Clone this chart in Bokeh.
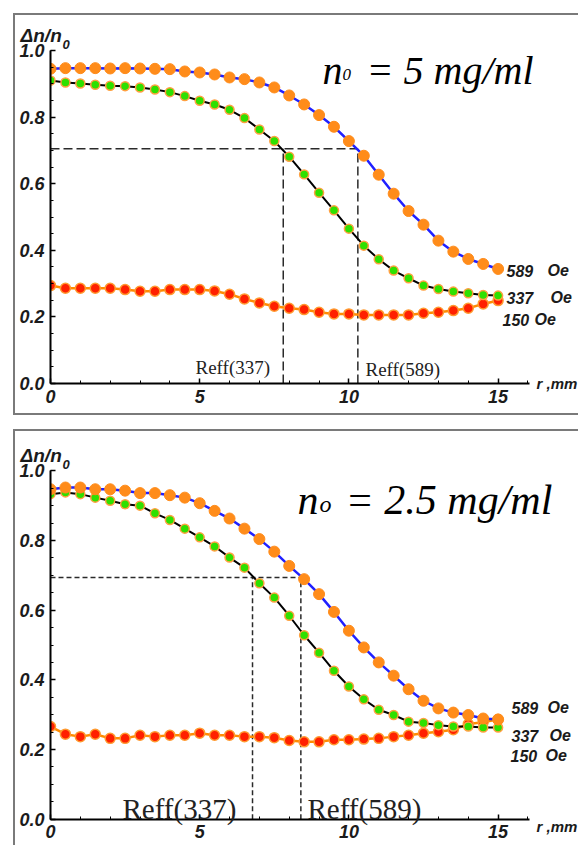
from bokeh.plotting import figure
from bokeh.models import Label, FixedTicker, PrintfTickFormatter, BoxAnnotation, Spacer
from bokeh.layouts import column, row
from bokeh.embed import file_html
from bokeh.resources import INLINE

# ---------------- data ----------------
r = [0.0, 0.5, 1.0, 1.5, 2.0, 2.5, 3.0, 3.5, 4.0, 4.5, 5.0, 5.5, 6.0, 6.5, 7.0, 7.5,
     8.0, 8.5, 9.0, 9.5, 10.0, 10.5, 11.0, 11.5, 12.0, 12.5, 13.0, 13.5, 14.0, 14.5, 15.0]

# panel 1: n0 = 5 mg/ml
top_589 = [0.945, 0.947, 0.947, 0.947, 0.946, 0.947, 0.946, 0.945, 0.944, 0.937, 0.934,
           0.928, 0.919, 0.914, 0.904, 0.889, 0.865, 0.838, 0.806, 0.771, 0.728, 0.684,
           0.627, 0.570, 0.518, 0.477, 0.429, 0.396, 0.374, 0.359, 0.344]
top_337 = [0.910, 0.904, 0.901, 0.897, 0.894, 0.893, 0.889, 0.883, 0.875, 0.863, 0.849,
           0.838, 0.822, 0.797, 0.763, 0.728, 0.681, 0.628, 0.573, 0.520, 0.465, 0.414,
           0.373, 0.339, 0.316, 0.294, 0.284, 0.276, 0.271, 0.266, 0.264]
top_150 = [0.294, 0.286, 0.286, 0.286, 0.286, 0.282, 0.277, 0.277, 0.282, 0.282, 0.282,
           0.278, 0.268, 0.254, 0.242, 0.232, 0.226, 0.222, 0.214, 0.209, 0.209, 0.206,
           0.206, 0.206, 0.206, 0.211, 0.214, 0.219, 0.226, 0.239, 0.249]
top_level = 0.705
top_reff_337 = 7.8
top_reff_589 = 10.3

# panel 2: n0 = 2.5 mg/ml
bot_589 = [0.947, 0.952, 0.952, 0.947, 0.947, 0.943, 0.936, 0.936, 0.930, 0.923, 0.907,
           0.885, 0.863, 0.834, 0.804, 0.768, 0.727, 0.689, 0.646, 0.595, 0.541, 0.493,
           0.450, 0.412, 0.373, 0.340, 0.318, 0.306, 0.299, 0.289, 0.286]
bot_337 = [0.933, 0.938, 0.933, 0.923, 0.914, 0.904, 0.900, 0.878, 0.859, 0.834, 0.809,
           0.783, 0.751, 0.722, 0.677, 0.636, 0.584, 0.528, 0.478, 0.426, 0.381, 0.344,
           0.314, 0.299, 0.280, 0.276, 0.270, 0.266, 0.266, 0.263, 0.263]
bot_150 = [0.266, 0.244, 0.237, 0.244, 0.232, 0.232, 0.241, 0.237, 0.241, 0.241, 0.247,
           0.241, 0.241, 0.237, 0.237, 0.234, 0.226, 0.222, 0.222, 0.228, 0.228, 0.230,
           0.232, 0.237, 0.241, 0.247, 0.251, 0.257, 0.273, 0.278, 0.287]
bot_level = 0.694
bot_reff_337 = 6.77
bot_reff_589 = 8.39

x_ticks = [0, 5, 10, 15]
y_ticks = [0.0, 0.2, 0.4, 0.6, 0.8, 1.0]
field_labels = ["589", "337", "150"]

# ---------------- styling ----------------
ORANGE = "#ff8c1a"
GREEN = "#2ee000"
RED = "#ff2000"
BLUE = "#2020ff"
SANS = "Liberation Sans"
SERIF = "Liberation Serif"
TXT = "#1b1b1b"

CANVAS_L, CANVAS_R = 13, 578      # page px of the drawing area
X0_PX, X_PER_UNIT = 48, 29.84     # page px of r = 0, px per r unit
X_AXIS_END = 16.05


def make_panel(s589, s337, s150, level, reff337, reff589, geo, texts):
    canvas_top, canvas_bot, y0_px, y_per_unit, styles = geo
    x_start = (CANVAS_L - X0_PX) / X_PER_UNIT
    x_end = (CANVAS_R - X0_PX) / X_PER_UNIT
    y_end = (y0_px - canvas_top) / y_per_unit
    y_start = (y0_px - canvas_bot) / y_per_unit

    p = figure(width=CANVAS_R - CANVAS_L, height=canvas_bot - canvas_top,
               x_range=(x_start, x_end), y_range=(y_start, y_end),
               output_backend="svg", toolbar_location=None,
               min_border=0, min_border_left=0, min_border_right=0,
               min_border_top=0, min_border_bottom=0)
    p.styles = styles
    p.grid.visible = False
    p.outline_line_color = None
    p.background_fill_color = "white"
    p.border_fill_color = "white"

    def dx(px):
        return (px - X0_PX) / X_PER_UNIT

    def dy(py):
        return (y0_px - py) / y_per_unit

    # axes drawn at r = 0 and value = 0
    for ax in (p.xaxis[0], p.yaxis[0]):
        ax.fixed_location = 0
        ax.axis_line_width = 2
        ax.axis_line_color = "black"
        ax.major_tick_in = 5
        ax.major_tick_out = 0
        ax.minor_tick_in = 3
        ax.minor_tick_out = 0
        ax.major_tick_line_width = 1.5
        ax.major_tick_line_color = "black"
        ax.minor_tick_line_color = "black"
        ax.major_label_text_font = SANS
        ax.major_label_text_font_style = "bold italic"
        ax.major_label_text_font_size = "18px"
        ax.major_label_text_color = TXT
    p.xaxis.bounds = (0, X_AXIS_END)
    p.yaxis.bounds = (0, 1.0)
    p.xaxis.ticker = FixedTicker(ticks=x_ticks, minor_ticks=list(range(0, 17)))
    p.yaxis.ticker = FixedTicker(ticks=y_ticks,
                                 minor_ticks=[round(0.05 * i, 2) for i in range(0, 21)])
    p.yaxis.formatter = PrintfTickFormatter(format="%.1f")
    p.xaxis.major_label_standoff = 6
    p.yaxis.major_label_standoff = 6

    # dashed guide lines
    dash_col = "#2a2a2a"
    p.line([0, reff589], [level, level], line_color=dash_col, line_width=1.5,
           line_dash=texts["dash"])
    p.line([reff337, reff337], [0, level], line_color=dash_col, line_width=1.5,
           line_dash=texts["dash"])
    p.line([reff589, reff589], [0, level], line_color=dash_col, line_width=1.5,
           line_dash=texts["dash"])

    # series
    p.line(r, s150, line_color="#ff8c00", line_width=2.5)
    p.scatter(r, s150, size=10, fill_color=RED, line_color="#ff9a30", line_width=1.5)
    p.line(r, s337, line_color="black", line_width=2)
    p.scatter(r, s337, size=9, fill_color=GREEN, line_color="#ffa040", line_width=1.5)
    p.line(r, s589, line_color=BLUE, line_width=2.5)
    p.scatter(r, s589, size=11, fill_color=ORANGE, line_color=ORANGE, line_width=1)

    # markers are cut at the vertical axis, as in the original
    p.add_layout(BoxAnnotation(right=0, fill_color="white", fill_alpha=1.0,
                               line_color=None, level="glyph"))

    def lab(text, px, py, font, size, style, color="black"):
        p.add_layout(Label(x=dx(px), y=dy(py), text=text, text_font=font,
                           text_font_size=size, text_font_style=style, text_color=color,
                           text_align="left", text_baseline="alphabetic"))

    # y label
    lab("\u0394n/n", 18, texts["ylab_bl"], SANS, "19px", "bold italic", TXT)
    lab("0", 60, texts["ylab_bl"] + 9, SANS, "13px", "bold italic", TXT)
    # x label
    lab("r ,mm", 534, texts["xlab_bl"], SANS, "15px", "bold italic", TXT)
    # title
    for t, px, py, sz in texts["title"]:
        lab(t, px, py, SERIF, sz, "italic")
    # Reff labels
    for t, px, py, sz in texts["reff"]:
        lab(t, px, py, SERIF, sz, "normal", "#222222")
    # series labels
    for (num, npx, opx, py) in texts["series"]:
        lab(num, npx, py, SANS, "16px", "bold italic", TXT)
        lab("Oe", opx, py, SANS, "16px", "bold italic", TXT)
    return p


BORDER = "2px solid #7a7a7a"

geo_top = (13, 415, 381.0, 333.0,
           {"border-left": BORDER, "border-top": BORDER, "border-bottom": BORDER})
texts_top = {
    "dash": "9 4",
    "ylab_bl": 33,
    "xlab_bl": 381,
    "title": [("n", 320, 68, "40px"), ("0", 340, 72, "17px"), ("= 5 mg/ml", 364, 68, "40px")],
    "reff": [("Reff(337)", 193, 365, "19px"), ("Reff(589)", 363, 367, "19px")],
    "series": [(field_labels[0], 504, 545, 268), (field_labels[1], 504, 548, 295),
               (field_labels[2], 500, 532, 317)],
}

geo_bot = (429, 845, 816.7, 348.4,
           {"border-left": BORDER, "border-top": BORDER})
texts_bot = {
    "dash": "5 3",
    "ylab_bl": 453,
    "xlab_bl": 824,
    "title": [("n", 295, 497, "42px"), ("o", 317, 501, "24px"), ("= 2.5 mg/ml", 343, 497, "42px")],
    "reff": [("Reff(337)", 120, 806, "29px"), ("Reff(589)", 305, 806, "29px")],
    "series": [(field_labels[0], 509, 545, 705), (field_labels[1], 509, 547, 733),
               (field_labels[2], 508, 543, 753)],
}

p1 = make_panel(top_589, top_337, top_150, top_level, top_reff_337, top_reff_589,
                geo_top, texts_top)
p2 = make_panel(bot_589, bot_337, bot_150, bot_level, bot_reff_337, bot_reff_589,
                geo_bot, texts_bot)

layout = column(Spacer(width=10, height=13),
                row(Spacer(width=13, height=10), p1),
                Spacer(width=10, height=14),
                row(Spacer(width=13, height=10), p2))
open("out.html", "w").write(file_html(layout, INLINE))
